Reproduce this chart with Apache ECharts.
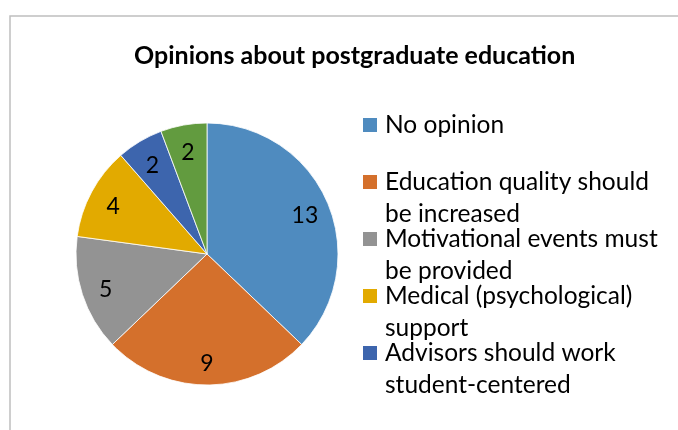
<!DOCTYPE html>
<html>
<head>
<meta charset="utf-8">
<script src="https://cdn.jsdelivr.net/npm/echarts@6/dist/echarts.min.js"></script>
<style>
  html, body { margin: 0; padding: 0; background: #fff; }
  #chart { width: 678px; height: 430px; }
</style>
</head>
<body>
<div id="chart"></div>
<script>
// Survey answers and their counts
const categories = [
  'No opinion',
  'Education quality should be increased',
  'Motivational events must be provided',
  'Medical (psychological) support',
  'Advisors should work student-centered',
  'Other'
];
const counts = [13, 9, 5, 4, 2, 2];
const sliceColors = ['#4f8bbf', '#d4702c', '#939393', '#e2aa00', '#3d65ad', '#629b3f'];
// Legend entries, wrapped the way they are shown
const legendNames = categories.slice(0, 5);
const legendText = [
  'No opinion\n ',
  'Education quality should\nbe increased',
  'Motivational events must\nbe provided',
  'Medical (psychological)\nsupport',
  'Advisors should work\nstudent-centered'
];

const FONT = 'Lato, "Open Sans", sans-serif';
const LINE_H = 32;
const pieData = categories.map((name, i) => ({
  name, value: counts[i], itemStyle: { color: sliceColors[i] }
}));

// Legend marker: a 14px square sitting at the top of a box one text line taller,
// so it lines up with the first line of a two-line entry.
const markerIcon = 'path://M0,0H14V14H0Z M0,' + (14 + LINE_H - 0.01) + 'H0.01V' + (14 + LINE_H) + 'H0Z';

const chart = echarts.init(document.getElementById('chart'), null, { renderer: 'canvas' });
chart.setOption({
  backgroundColor: '#ffffff',
  animation: false,
  title: {
    text: 'Opinions about postgraduate education',
    left: 129,
    top: 38,
    textStyle: { fontFamily: FONT, fontWeight: 'bold', fontSize: 25, color: '#000' }
  },
  legend: {
    orient: 'vertical',
    left: 363,
    top: 109,
    padding: 0,
    itemWidth: 14,
    itemHeight: 14 + LINE_H,
    itemGap: -7,
    icon: markerIcon,
    symbolKeepAspect: false,
    data: legendNames,
    selectedMode: false,
    itemStyle: { borderWidth: 0 },
    formatter: name => legendText[legendNames.indexOf(name)],
    textStyle: {
      fontFamily: FONT,
      fontSize: 24.5,
      lineHeight: LINE_H,
      padding: [0, 0, 0, 3],
      color: '#000'
    }
  },
  graphic: [{
    type: 'rect',
    silent: true,
    shape: { x: 10, y: 16, width: 800, height: 600 },
    style: { fill: 'none', stroke: '#bfbfbf', lineWidth: 1.5 }
  }],
  series: [
    {
      type: 'pie',
      center: [207, 254],
      radius: [0, 131],
      startAngle: 90,
      clockwise: true,
      label: { show: false },
      labelLine: { show: false },
      itemStyle: { borderColor: '#ffffff', borderWidth: 0.8 },
      emphasis: { disabled: true },
      data: pieData
    },
    {
      // transparent ring carrying the value labels further out in each slice
      type: 'pie',
      center: [207, 254],
      radius: [76, 131],
      startAngle: 90,
      clockwise: true,
      silent: true,
      itemStyle: { color: 'rgba(0,0,0,0)' },
      emphasis: { disabled: true },
      label: {
        show: true,
        position: 'inside',
        formatter: '{c}',
        fontFamily: FONT,
        fontSize: 23,
        offset: [0, 3],
        color: '#000'
      },
      labelLine: { show: false },
      data: categories.map((name, i) => ({ name, value: counts[i] }))
    }
  ]
});
</script>
</body>
</html>
